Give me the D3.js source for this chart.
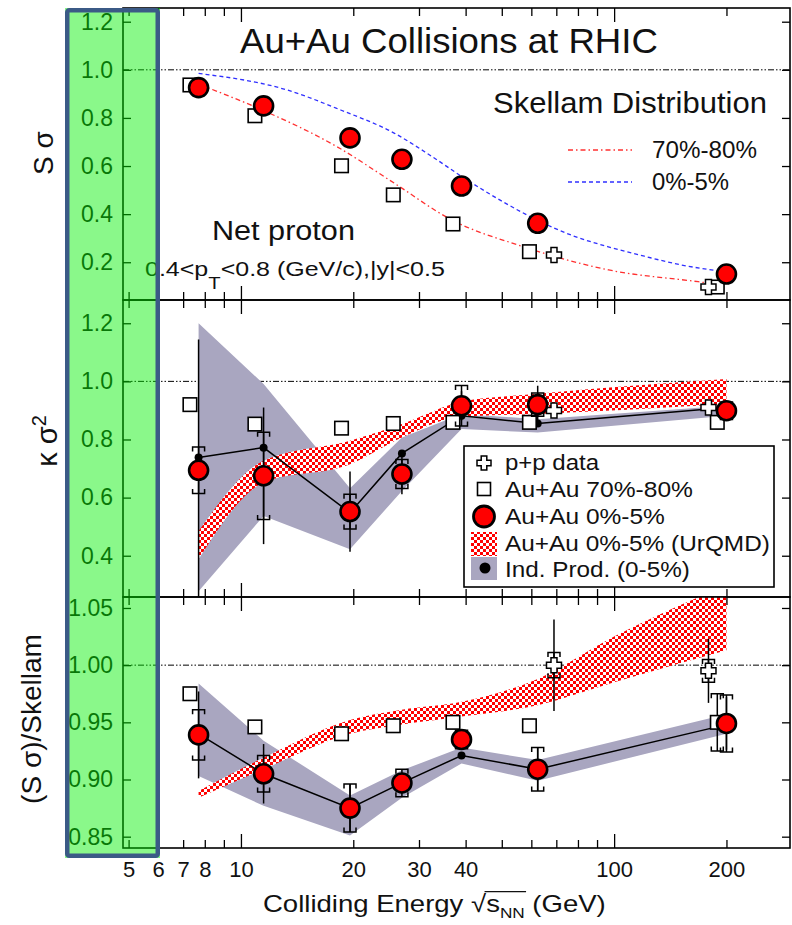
<!DOCTYPE html>
<html>
<head>
<meta charset="utf-8">
<script src="https://cdn.jsdelivr.net/npm/d3@7/dist/d3.min.js"></script>
<style>
html,body{margin:0;padding:0;background:#fff;}
svg{display:block;}
</style>
</head>
<body>
<svg id="chart" width="792" height="925"></svg>
<script>
const FONT = '"Liberation Sans", Arial, Helvetica, sans-serif';

// ---------------- data ----------------
const energy = [7.7, 11.5, 19.6, 27, 39, 62.4, 200];
const energyPeripheral = [7.3, 10.9, 18.6, 25.6, 37.0, 59.3, 189];
const energyPP = [69, 179];
const xLabelTicks = [5, 6, 7, 8, 10, 20, 30, 40, 100, 200];
const xMinorTicks = [5, 6, 7, 8, 9, 20, 30, 40, 50, 60, 70, 80, 90, 200];
const xMajorTicks = [10, 100];
const yTicksS = [0.2, 0.4, 0.6, 0.8, 1.0, 1.2];
const yTicksK = [0.4, 0.6, 0.8, 1.0, 1.2];
const yTicksR = [0.85, 0.90, 0.95, 1.00, 1.05];

// Panel 1: S sigma
const sSigmaCentral = [0.926, 0.850, 0.717, 0.628, 0.517, 0.362, 0.151];
const sSigmaPeripheral = [0.937, 0.809, 0.601, 0.480, 0.359, 0.244, 0.097];
const sSigmaPP = [0.230, 0.097];
const skellamPeriphE = [7.8, 11.4, 18.1, 25.8, 36.7, 57.0, 69.6, 96.7, 168, 190];
const skellamPeriph = [0.937, 0.833, 0.680, 0.528, 0.376, 0.265, 0.223, 0.168, 0.119, 0.108];
const skellamCentralE = [7.7, 13.3, 18.5, 25.8, 32.1, 39.1, 49.9, 62.2, 77.6, 96, 120.5, 150, 188];
const skellamCentral = [0.985, 0.916, 0.833, 0.736, 0.645, 0.556, 0.455, 0.375, 0.310, 0.265, 0.225, 0.190, 0.165];

// Panel 2: kappa sigma^2
const kCentral = [0.694, 0.675, 0.552, 0.681, 0.916, 0.920, 0.899];
const kCentralStat = [0.45, 0.235, 0.138, 0.069, 0.05, 0.065, 0.03];
const kCentralSys = [0.08, 0.15, 0.06, 0.05, 0.07, 0.04, 0.03];
const kPeripheral = [0.920, 0.853, 0.839, 0.855, 0.859, 0.859, 0.859];
const kPeripheralStat = [0.02, 0.02, 0.01, 0.01, 0.02, 0.02, 0.02];
const kPP = [0.900, 0.910];
const kInd = [0.738, 0.772, 0.548, 0.752, 0.882, 0.855, 0.910];
const kIndLo = [0.278, 0.537, 0.422, 0.623, 0.836, 0.824, 0.882];
const kIndHi = [1.200, 0.991, 0.632, 0.807, 0.888, 0.870, 0.916];
const kUrqmdLo = [0.388, 0.652, 0.715, 0.807, 0.879, 0.888, 0.922];
const kUrqmdHi = [0.485, 0.727, 0.796, 0.853, 0.930, 0.957, 1.008];

// Panel 3: (S sigma)/Skellam
const rCentral = [0.939, 0.905, 0.875, 0.897, 0.935, 0.909, 0.949];
const rCentralStat = [0.038, 0.026, 0.021, 0.008, 0.006, 0.019, 0.023];
const rCentralSys = [0.022, 0.016, 0.021, 0.012, 0.008, 0.019, 0.025];
const rPeripheral = [0.975, 0.946, 0.940, 0.947, 0.950, 0.947, 0.950];
const rPeripheralSys = [0.005, 0.004, 0.004, 0.005, 0.005, 0.005, 0.025];
const rPP = [1.000, 0.995];
const rPPStat = [0.040, 0.028];
const rPPSys = [0.011, 0.010];
const rInd = [0.940, 0.905, 0.875, 0.897, 0.921, 0.909, 0.948];
const rIndLo = [0.903, 0.877, 0.851, 0.884, 0.914, 0.899, 0.940];
const rIndHi = [0.984, 0.934, 0.886, 0.908, 0.928, 0.917, 0.957];
const rUrqmdE = [7.7, 11.5, 19.6, 27, 39, 62.4, 100, 200];
const rUrqmdLo = [0.884, 0.909, 0.940, 0.948, 0.955, 0.965, 0.985, 1.013];
const rUrqmdHi = [0.890, 0.919, 0.952, 0.961, 0.968, 0.988, 1.025, 1.070];

// ---------------- drawing ----------------
const svg = d3.select('#chart');
const defs = svg.append('defs');
const pat = defs.append('pattern').attr('id', 'checker')
  .attr('patternUnits', 'userSpaceOnUse').attr('width', 6).attr('height', 6);
pat.append('rect').attr('width', 6).attr('height', 6).attr('fill', '#ffffff');
pat.append('rect').attr('width', 3).attr('height', 3).attr('fill', '#ff0000');
pat.append('rect').attr('x', 3).attr('y', 3).attr('width', 3).attr('height', 3).attr('fill', '#ff0000');

const X0 = 123, X1 = 790;
const x = d3.scaleLog().domain([4.83, 296]).range([X0, X1]);
const GREY = '#a9a6c0';

const panels = [
  {id: 's', top: 8, bottom: 300, domain: [0.043, 1.257], ticks: yTicksS, fmt: d3.format('.1f')},
  {id: 'k', top: 300, bottom: 597, domain: [0.258, 1.280], ticks: yTicksK, fmt: d3.format('.1f')},
  {id: 'r', top: 597, bottom: 848, domain: [0.8401, 1.0596], ticks: yTicksR, fmt: d3.format('.2f')}
];
panels.forEach(p => {
  p.y = d3.scaleLinear().domain(p.domain).range([p.bottom, p.top]);
  defs.append('clipPath').attr('id', 'clip-' + p.id).append('rect')
    .attr('x', X0).attr('y', p.top).attr('width', X1 - X0).attr('height', p.bottom - p.top);
  p.g = svg.append('g');
  p.data = p.g.append('g').attr('clip-path', `url(#clip-${p.id})`);
});
const [P1, P2, P3] = panels;

function refLine(p) {
  p.data.append('line').attr('x1', X0).attr('x2', X1).attr('y1', p.y(1)).attr('y2', p.y(1))
    .attr('stroke', '#000').attr('stroke-width', 1).attr('stroke-dasharray', '6,2,1.5,2,1.5,2');
}
function band(p, E, lo, hi, fill, curve) {
  const area = d3.area().x(d => x(d[0])).y0(d => p.y(d[1])).y1(d => p.y(d[2]))
    .curve(curve || d3.curveLinear);
  p.data.append('path').datum(d3.zip(E, lo, hi)).attr('d', area).attr('fill', fill);
}
function curveLine(p, E, V, stroke, dash, width, curve) {
  const line = d3.line().x(d => x(d[0])).y(d => p.y(d[1])).curve(curve || d3.curveLinear);
  p.data.append('path').datum(d3.zip(E, V)).attr('d', line).attr('fill', 'none')
    .attr('stroke', stroke).attr('stroke-width', width).attr('stroke-dasharray', dash);
}
function statBars(p, E, V, err) {
  p.data.append('g').selectAll('line').data(d3.zip(E, V, err)).join('line')
    .attr('x1', d => x(d[0])).attr('x2', d => x(d[0]))
    .attr('y1', d => p.y(d[1] - d[2])).attr('y2', d => p.y(d[1] + d[2]))
    .attr('stroke', '#000').attr('stroke-width', 1.5);
}
function sysBrackets(p, E, V, err) {
  const hw = 6, leg = 4.5;
  p.data.append('g').selectAll('path').data(d3.zip(E, V, err)).join('path')
    .attr('d', d => {
      const cx = x(d[0]), yt = p.y(d[1] + d[2]), yb = p.y(d[1] - d[2]);
      return `M${cx - hw},${yt + leg}V${yt}H${cx + hw}V${yt + leg}` +
             `M${cx - hw},${yb - leg}V${yb}H${cx + hw}V${yb - leg}` +
             `M${cx},${yt}V${yb}`;
    })
    .attr('fill', 'none').attr('stroke', '#000').attr('stroke-width', 1.5);
}
function squares(p, E, V) {
  const s = 13.5;
  p.data.append('g').selectAll('rect').data(d3.zip(E, V)).join('rect')
    .attr('x', d => x(d[0]) - s / 2).attr('y', d => p.y(d[1]) - s / 2)
    .attr('width', s).attr('height', s)
    .attr('fill', '#fff').attr('stroke', '#000').attr('stroke-width', 1.6);
}
function crossPath(cx, cy, a, L) {
  return `M${cx - a},${cy - L}H${cx + a}V${cy - a}H${cx + L}V${cy + a}H${cx + a}V${cy + L}` +
         `H${cx - a}V${cy + a}H${cx - L}V${cy - a}H${cx - a}Z`;
}
function crosses(p, E, V) {
  p.data.append('g').selectAll('path').data(d3.zip(E, V)).join('path')
    .attr('d', d => crossPath(x(d[0]), p.y(d[1]), 3, 7.5))
    .attr('fill', '#fff').attr('stroke', '#000').attr('stroke-width', 1.5);
}
function circles(p, E, V) {
  p.data.append('g').selectAll('circle').data(d3.zip(E, V)).join('circle')
    .attr('cx', d => x(d[0])).attr('cy', d => p.y(d[1])).attr('r', 9.5)
    .attr('fill', '#ff0000').attr('stroke', '#000').attr('stroke-width', 2.6);
}
function dots(p, E, V) {
  p.data.append('g').selectAll('circle').data(d3.zip(E, V)).join('circle')
    .attr('cx', d => x(d[0])).attr('cy', d => p.y(d[1])).attr('r', 4).attr('fill', '#000');
}

// ----- panel 1 -----
refLine(P1);
curveLine(P1, skellamPeriphE, skellamPeriph, '#ff3030', '5,3,1.5,3', 1.3, d3.curveMonotoneX);
curveLine(P1, skellamCentralE, skellamCentral, '#3030ff', '4,3', 1.3, d3.curveMonotoneX);
squares(P1, energyPeripheral, sSigmaPeripheral);
crosses(P1, energyPP, sSigmaPP);
circles(P1, energy, sSigmaCentral);

// ----- panel 2 -----
refLine(P2);
band(P2, energy, kIndLo, kIndHi, GREY);
band(P2, energy, kUrqmdLo, kUrqmdHi, 'url(#checker)', d3.curveMonotoneX);
curveLine(P2, energy, kInd, '#000', null, 1.5);
dots(P2, energy, kInd);
statBars(P2, energyPeripheral, kPeripheral, kPeripheralStat);
squares(P2, energyPeripheral, kPeripheral);
crosses(P2, energyPP, kPP);
statBars(P2, energy, kCentral, kCentralStat);
sysBrackets(P2, energy, kCentral, kCentralSys);
circles(P2, energy, kCentral);

// ----- panel 3 -----
refLine(P3);
band(P3, energy, rIndLo, rIndHi, GREY);
band(P3, rUrqmdE, rUrqmdLo, rUrqmdHi, 'url(#checker)', d3.curveMonotoneX);
curveLine(P3, energy, rInd, '#000', null, 1.5);
dots(P3, energy, rInd);
sysBrackets(P3, energyPeripheral, rPeripheral, rPeripheralSys);
squares(P3, energyPeripheral, rPeripheral);
statBars(P3, energyPP, rPP, rPPStat);
sysBrackets(P3, energyPP, rPP, rPPSys);
crosses(P3, energyPP, rPP);
statBars(P3, energy, rCentral, rCentralStat);
sysBrackets(P3, energy, rCentral, rCentralSys);
circles(P3, energy, rCentral);

// ----- frames & ticks -----
function styleAxis(g) {
  g.select('.domain').remove();
  g.selectAll('line').attr('stroke', '#000').attr('stroke-width', 1.3);
}
panels.forEach(p => {
  const g = p.g.append('g');
  g.append('g').attr('transform', `translate(0,${p.bottom})`)
    .call(d3.axisBottom(x).tickValues(xMinorTicks).tickSize(-8).tickFormat('')).call(styleAxis);
  g.append('g').attr('transform', `translate(0,${p.bottom})`)
    .call(d3.axisBottom(x).tickValues(xMajorTicks).tickSize(-14).tickFormat('')).call(styleAxis);
  g.append('g').attr('transform', `translate(0,${p.top})`)
    .call(d3.axisTop(x).tickValues(xMinorTicks).tickSize(-8).tickFormat('')).call(styleAxis);
  g.append('g').attr('transform', `translate(0,${p.top})`)
    .call(d3.axisTop(x).tickValues(xMajorTicks).tickSize(-14).tickFormat('')).call(styleAxis);
  g.append('g').attr('transform', `translate(${X0},0)`)
    .call(d3.axisLeft(p.y).tickValues(p.ticks).tickSize(-8).tickFormat('')).call(styleAxis);
  g.append('g').attr('transform', `translate(${X1},0)`)
    .call(d3.axisRight(p.y).tickValues(p.ticks).tickSize(-8).tickFormat('')).call(styleAxis);
  g.append('g').attr('transform', `translate(${X0},0)`)
    .call(d3.axisLeft(p.y).tickValues(p.ticks).tickSize(0).tickPadding(10).tickFormat(p.fmt))
    .call(a => {
      a.select('.domain').remove();
      a.selectAll('text').attr('font-family', FONT).attr('font-size', 23).attr('fill', '#111');
    });
  g.append('rect').attr('x', X0).attr('y', p.top).attr('width', X1 - X0).attr('height', p.bottom - p.top)
    .attr('fill', 'none').attr('stroke', '#000').attr('stroke-width', 1.6);
});
svg.append('g').attr('transform', `translate(0,${P3.bottom})`)
  .call(d3.axisBottom(x).tickValues(xLabelTicks).tickSize(0).tickPadding(13).tickFormat(d3.format('d')))
  .call(a => {
    a.select('.domain').remove();
    a.selectAll('text').attr('font-family', FONT).attr('font-size', 22).attr('fill', '#111');
  });

// ----- texts -----
function fitWidth(t, target, ax) {
  const w = t.node().getBBox().width;
  if (w > 0) t.attr('transform', `translate(${ax},0) scale(${target / w},1) translate(${-ax},0)`);
}
function text(str, x0, y0, size, width) {
  const t = svg.append('text').attr('x', x0).attr('y', y0).attr('font-family', FONT)
    .attr('font-size', size).attr('fill', '#111').text(str);
  if (width) fitWidth(t, width, x0);
  return t;
}
text('Au+Au Collisions at RHIC', 240, 53, 35, 418);
text('Skellam Distribution', 493, 113, 30, 274);
text('70%-80%', 652, 158, 24, 105);
text('0%-5%', 652, 190, 24, 77);
svg.append('line').attr('x1', 568).attr('x2', 632).attr('y1', 150).attr('y2', 150)
  .attr('stroke', '#ff3030').attr('stroke-width', 1.3).attr('stroke-dasharray', '5,3,1.5,3');
svg.append('line').attr('x1', 568).attr('x2', 632).attr('y1', 182).attr('y2', 182)
  .attr('stroke', '#3030ff').attr('stroke-width', 1.3).attr('stroke-dasharray', '4,3');
text('Net proton', 212, 240, 28, 143);
{
  const t = svg.append('text').attr('x', 145).attr('y', 276).attr('font-family', FONT)
    .attr('font-size', 21).attr('fill', '#111');
  t.append('tspan').text('0.4<p');
  t.append('tspan').attr('dy', 13).attr('font-size', 17).text('T');
  t.append('tspan').attr('dy', -13).text('<0.8 (GeV/c),|y|<0.5');
  fitWidth(t, 300, 145);
}

// axis titles
svg.append('text').attr('transform', 'translate(53,153) rotate(-90)').attr('text-anchor', 'middle')
  .attr('font-family', FONT).attr('font-size', 28).attr('fill', '#111').text('S σ');
{
  const t = svg.append('text').attr('transform', 'translate(57,441) rotate(-90)').attr('text-anchor', 'middle')
    .attr('font-family', FONT).attr('font-size', 29).attr('fill', '#111');
  t.append('tspan').text('κ σ');
  t.append('tspan').attr('dy', -11).attr('font-size', 20).text('2');
}
svg.append('text').attr('transform', 'translate(41,719) rotate(-90)').attr('text-anchor', 'middle')
  .attr('font-family', FONT).attr('font-size', 28).attr('fill', '#111').text('(S σ)/Skellam');
{
  const t = svg.append('text').attr('x', 263).attr('y', 912).attr('font-family', FONT)
    .attr('font-size', 24).attr('fill', '#111');
  t.append('tspan').text('Colliding Energy ');
  t.append('tspan').text('√');
  t.append('tspan').text('s');
  t.append('tspan').attr('dy', 6).attr('font-size', 15).text('NN');
  t.append('tspan').attr('dy', -6).text(' (GeV)');
  fitWidth(t, 343, 263);
  const n = t.node();
  const sq = n.getExtentOfChar(17);
  const endN = n.getEndPositionOfChar(20);
  const startS = n.getStartPositionOfChar(18);
  const sc = 343 / n.getBBox().width;
  const toX = v => 263 + (v - 263) * sc;
  svg.append('line').attr('x1', toX(startS.x - 1.5)).attr('x2', toX(endN.x + 1))
    .attr('y1', sq.y + 1).attr('y2', sq.y + 1).attr('stroke', '#111').attr('stroke-width', 1.3);
}

// ----- legend -----
{
  const lg = svg.append('g');
  lg.append('rect').attr('x', 464).attr('y', 446).attr('width', 310).attr('height', 141)
    .attr('fill', '#fff').attr('stroke', '#000').attr('stroke-width', 1.6);
  const cx = 484;
  lg.append('path').attr('d', crossPath(cx, 463, 2.8, 7)).attr('fill', '#fff').attr('stroke', '#000').attr('stroke-width', 1.5);
  lg.append('rect').attr('x', cx - 6.5).attr('y', 489 - 6.5).attr('width', 13).attr('height', 13)
    .attr('fill', '#fff').attr('stroke', '#000').attr('stroke-width', 1.6);
  lg.append('circle').attr('cx', cx).attr('cy', 516.5).attr('r', 10.5)
    .attr('fill', '#ff0000').attr('stroke', '#000').attr('stroke-width', 2.8);
  lg.append('rect').attr('x', 471).attr('y', 532).attr('width', 26).attr('height', 24).attr('fill', 'url(#checker)');
  lg.append('rect').attr('x', 471).attr('y', 557).attr('width', 26).attr('height', 23).attr('fill', GREY);
  lg.append('circle').attr('cx', 485).attr('cy', 568).attr('r', 5.5).attr('fill', '#000');
  const entries = [['p+p data', 470, 95], ['Au+Au 70%-80%', 497, 188], ['Au+Au 0%-5%', 524, 160],
                   ['Au+Au 0%-5% (UrQMD)', 551, 265], ['Ind. Prod. (0-5%)', 577, 185]];
  entries.forEach(e => text(e[0], 505, e[1], 22, e[2]));
}

// ----- highlight overlay -----
svg.append('rect').attr('x', 65).attr('y', 8).attr('width', 95).attr('height', 850)
  .attr('fill', 'rgb(0,240,0)').attr('fill-opacity', 0.46);
svg.append('rect').attr('x', 67.25).attr('y', 10.25).attr('width', 90.5).attr('height', 845.5)
  .attr('fill', 'none').attr('stroke', '#3b5a86').attr('stroke-width', 4.5).attr('rx', 2);
</script>
</body>
</html>
